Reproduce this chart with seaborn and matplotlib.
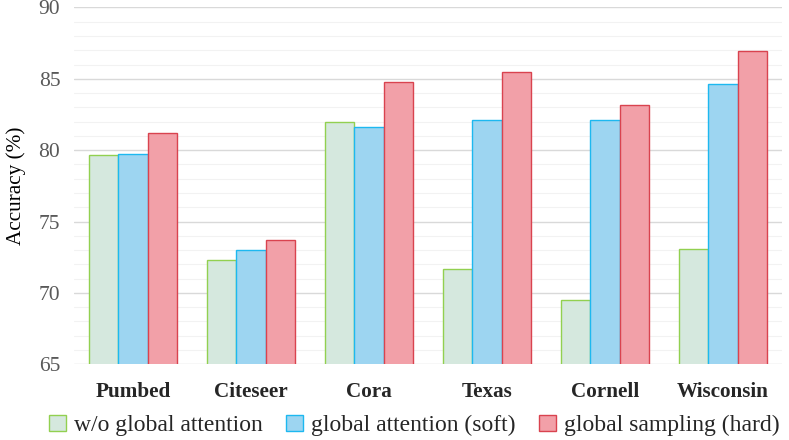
import matplotlib
matplotlib.use("Agg")
import matplotlib.pyplot as plt
from matplotlib.patches import Patch
from matplotlib.ticker import MultipleLocator
import seaborn as sns
import pandas as pd

datasets = ["Pumbed", "Citeseer", "Cora", "Texas", "Cornell", "Wisconsin"]
series = ["w/o global attention", "global attention (soft)", "global sampling (hard)"]
no_attn = [79.65, 72.3, 81.95, 71.65, 69.5, 73.05]
soft_attn = [79.7, 73.0, 81.6, 82.15, 82.15, 84.65]
hard_sampling = [81.2, 73.7, 84.8, 85.45, 83.2, 86.95]

fills = ["#D5E8DE", "#9DD5F1", "#F2A0A8"]
edges = ["#92D050", "#1DB8F0", "#D9434F"]

rows = []
for name, vals in zip(series, [no_attn, soft_attn, hard_sampling]):
    for d, v in zip(datasets, vals):
        rows.append({"Dataset": d, "Method": name, "Accuracy": v})
df = pd.DataFrame(rows)

sns.set_style("white")
plt.rcParams["font.family"] = ["Liberation Serif", "DejaVu Serif"]

fig = plt.figure(figsize=(7.89, 4.40), dpi=100)
ax = fig.add_axes([0.094, 0.172, 0.897, 0.811])

sns.barplot(data=df, x="Dataset", y="Accuracy", hue="Method", palette=fills,
            saturation=1, width=0.75, ax=ax, legend=False, zorder=3)

for cont, ec in zip(ax.containers, edges):
    for bar in cont:
        bar.set_edgecolor(ec)
        bar.set_linewidth(1.0)

ax.set_ylim(65, 90)
ax.set_xlim(-0.5, len(datasets) - 0.5)
ax.yaxis.set_major_locator(MultipleLocator(5))
ax.yaxis.set_minor_locator(MultipleLocator(1))
ax.grid(axis="y", which="major", color="#D9D9D9", linewidth=1.0, zorder=0)
ax.grid(axis="y", which="minor", color="#F2F2F2", linewidth=0.8, zorder=0)
ax.set_axisbelow(True)
for s in ax.spines.values():
    s.set_visible(False)

ax.tick_params(axis="y", which="both", length=0, labelsize=15.5, labelcolor="#595959", pad=10)
ax.tick_params(axis="x", length=0, labelsize=15.2, pad=13)
for lab in ax.get_xticklabels():
    lab.set_fontweight("bold")

ax.set_xlabel("")
ax.set_ylabel("Accuracy (%)", fontsize=15.3, labelpad=9, color="black")

handles = [Patch(facecolor=f, edgecolor=e, linewidth=1.0) for f, e in zip(fills, edges)]
fig.legend(handles, series, loc="center", bbox_to_anchor=(0.525, 0.033), ncol=3,
           frameon=False, fontsize=17, handlelength=0.7, handleheight=0.7,
           handletextpad=0.35, columnspacing=1.0)

fig.savefig("out.png", dpi=100)
